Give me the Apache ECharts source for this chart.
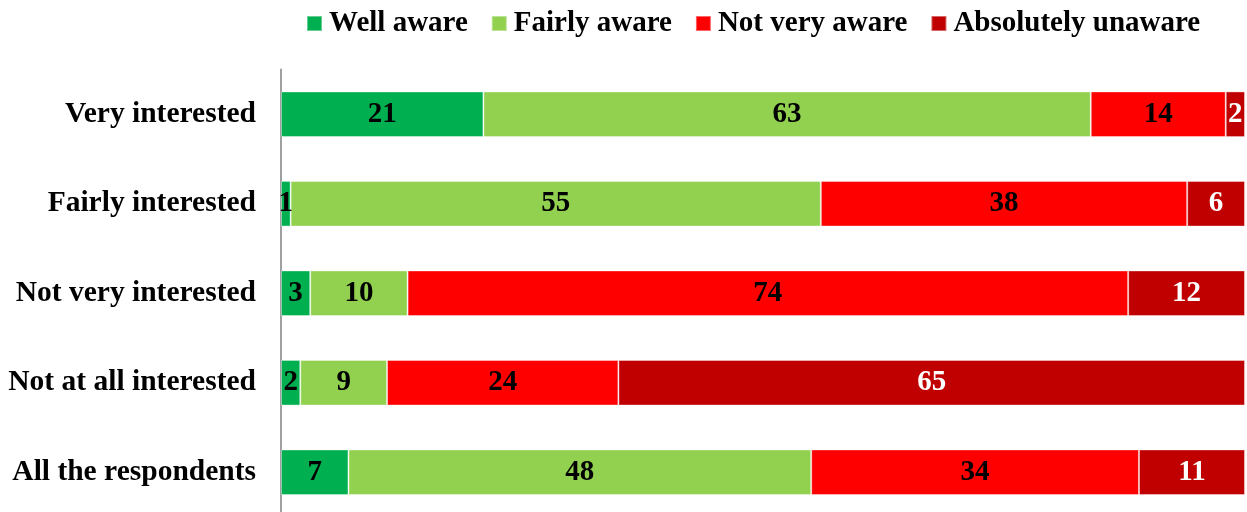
<!DOCTYPE html>
<html>
<head>
<meta charset="utf-8">
<script src="https://cdn.jsdelivr.net/npm/echarts@6/dist/echarts.min.js"></script>
<style>
  html, body { margin: 0; padding: 0; background: #fff; }
  #chart { width: 1247px; height: 512px; }
</style>
</head>
<body>
<div id="chart"></div>
<script>
const categories = ["Very interested", "Fairly interested", "Not very interested", "Not at all interested", "All the respondents"];
const seriesNames = ["Well aware", "Fairly aware", "Not very aware", "Absolutely unaware"];
const wellAware = [21, 1, 3, 2, 7];
const fairlyAware = [63, 55, 10, 9, 48];
const notVeryAware = [14, 38, 74, 24, 34];
const absolutelyUnaware = [2, 6, 12, 65, 11];

const colors = ["#00B050", "#92D050", "#FF0000", "#C00000"];
const labelColors = ["#000", "#000", "#000", "#fff"];
const rawData = [wellAware, fairlyAware, notVeryAware, absolutelyUnaware];

// 100% stacked: each row is scaled to its own total
const totals = categories.map((_, i) => rawData.reduce((s, arr) => s + arr[i], 0));

const font = "'Liberation Serif', 'Times New Roman', serif";

const chart = echarts.init(document.getElementById("chart"));
chart.setOption({
    animation: false,
    legend: {
        top: 4,
        left: 301,
        itemWidth: 15,
        itemHeight: 15,
        itemGap: 23,
        icon: "rect",
        textStyle: {
            fontFamily: font,
            fontWeight: "bold",
            fontSize: 29,
            color: "#000",
            padding: [0, 0, 0, 2]
        },
        data: seriesNames
    },
    grid: {
        left: 281,
        right: 2,
        top: 69.5,
        height: 447.5,
        outerBoundsMode: "none"
    },
    xAxis: {
        type: "value",
        min: 0,
        max: 100,
        show: false
    },
    yAxis: {
        type: "category",
        data: categories,
        inverse: true,
        axisTick: { show: false },
        axisLine: { lineStyle: { color: "#A0A0A0", width: 2 } },
        axisLabel: {
            fontFamily: font,
            fontWeight: "bold",
            fontSize: 29.5,
            color: "#000",
            margin: 25
        }
    },
    series: seriesNames.map((name, k) => ({
        name: name,
        type: "bar",
        stack: "total",
        barCategoryGap: "49%",
        itemStyle: {
            color: colors[k],
            borderColor: "rgba(255,255,255,0.4)",
            borderWidth: 1
        },
        label: {
            show: true,
            position: "inside",
            fontFamily: font,
            fontWeight: "bold",
            fontSize: 29,
            color: labelColors[k],
            formatter: p => rawData[k][p.dataIndex]
        },
        data: rawData[k].map((v, i) => v / totals[i] * 100)
    }))
});
</script>
</body>
</html>
